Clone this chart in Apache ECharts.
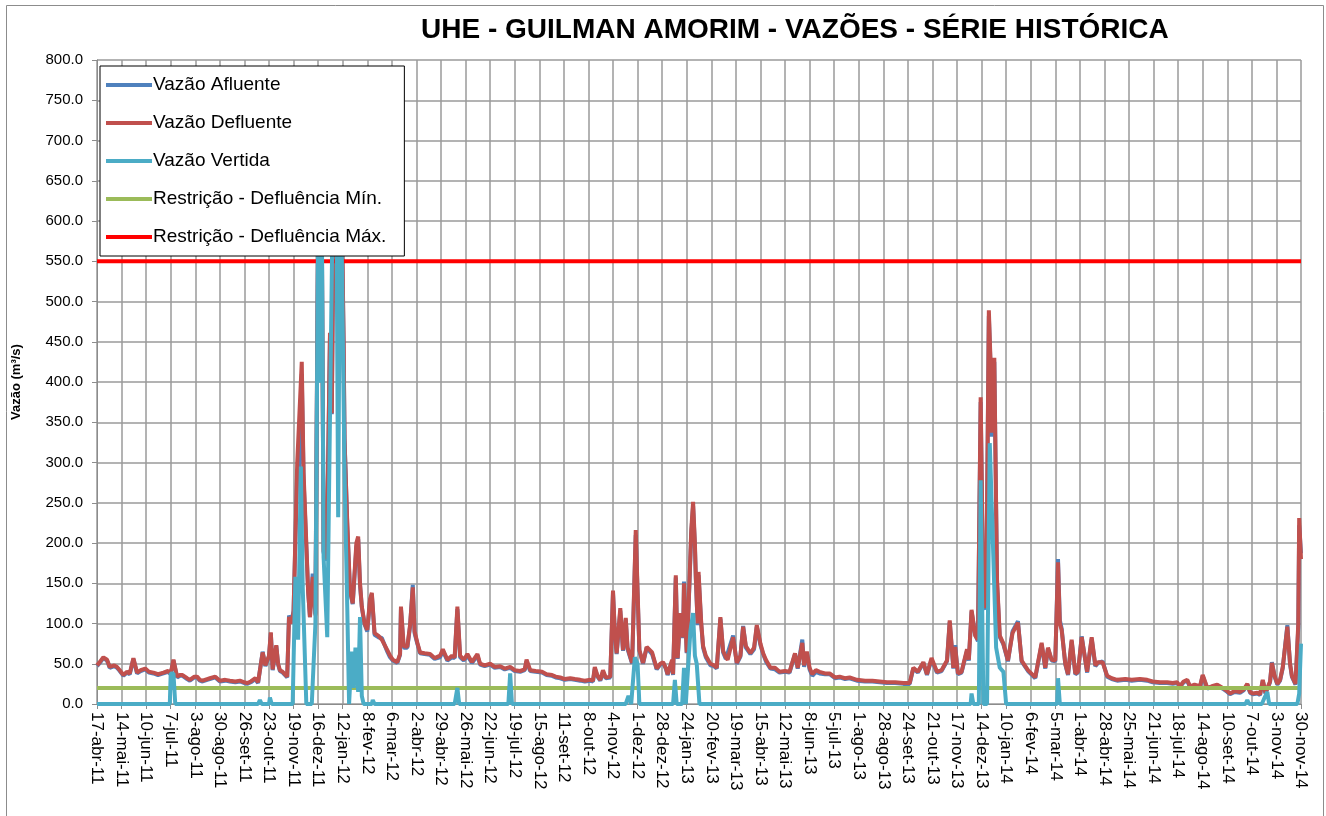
<!DOCTYPE html>
<html>
<head>
<meta charset="utf-8">
<script src="https://cdn.jsdelivr.net/npm/echarts@6/dist/echarts.min.js"></script>
<style>
  html, body { margin: 0; padding: 0; background: #fff; }
  #chart { width: 1326px; height: 816px; }
</style>
</head>
<body>
<div id="chart"></div>
<script>
// rótulos do eixo X (um a cada 27 dias a partir de 17-abr-11)
const tickLabels = ['17-abr-11','14-mai-11','10-jun-11','7-jul-11','3-ago-11','30-ago-11','26-set-11','23-out-11','19-nov-11','16-dez-11',
  '12-jan-12','8-fev-12','6-mar-12','2-abr-12','29-abr-12','26-mai-12','22-jun-12','19-jul-12','15-ago-12','11-set-12',
  '8-out-12','4-nov-12','1-dez-12','28-dez-12','24-jan-13','20-fev-13','19-mar-13','15-abr-13','12-mai-13','8-jun-13',
  '5-jul-13','1-ago-13','28-ago-13','24-set-13','21-out-13','17-nov-13','14-dez-13','10-jan-14','6-fev-14','5-mar-14',
  '1-abr-14','28-abr-14','25-mai-14','21-jun-14','18-jul-14','14-ago-14','10-set-14','7-out-14','3-nov-14','30-nov-14'];
const tickStep = 27;
const lastDay = 1323;

// [dia desde 17-abr-11, vazão m³/s]
const afluente = [[0,47],[3,51],[7,57],[11,54],[14,45],[19,47],[22,45],[25,41],[29,35],[33,39],[36,37],[40,56],[44,38],[48,41],[53,43],[57,39],[62,38],[67,36],[73,38],[78,40],[81,37],[84,54],[88,33],[91,35],[94,35],[99,31],[102,29],[107,33],[110,33],[113,29],[116,28],[121,30],[124,31],[130,33],[135,28],[141,29],[146,28],[152,27],[157,28],[162,26],[165,25],[169,27],[174,31],[177,26],[179,27],[182,65],[185,47],[187,45],[189,59],[191,88],[193,42],[197,72],[199,49],[201,41],[204,39],[209,33],[211,110],[214,102],[216,116],[220,290],[222,295],[225,410],[227,280],[230,195],[232,140],[234,108],[237,162],[240,112],[243,610],[245,630],[247,600],[249,188],[252,178],[254,298],[256,455],[258,360],[260,615],[263,650],[265,555],[267,630],[269,610],[271,445],[272,330],[275,222],[278,140],[281,124],[285,195],[287,205],[289,148],[291,120],[294,99],[297,90],[300,128],[302,136],[305,86],[309,83],[313,82],[319,65],[322,58],[325,54],[330,51],[333,61],[334,118],[337,70],[341,70],[344,96],[347,148],[349,88],[352,75],[355,63],[360,62],[366,61],[371,56],[377,58],[380,66],[385,54],[390,58],[393,57],[396,118],[399,58],[403,54],[407,60],[412,51],[418,60],[421,49],[426,47],[432,49],[437,45],[443,46],[448,43],[454,45],[459,41],[465,40],[470,42],[472,53],[476,41],[482,40],[489,39],[494,36],[500,35],[504,33],[509,32],[514,30],[520,31],[525,30],[531,29],[536,28],[542,29],[545,28],[547,44],[550,34],[553,29],[556,40],[559,32],[564,33],[567,138],[569,88],[571,62],[575,116],[578,66],[581,105],[583,68],[588,50],[592,210],[596,66],[600,50],[604,70],[610,62],[615,43],[619,49],[622,51],[625,44],[627,36],[632,53],[633,36],[636,157],[638,56],[641,110],[644,82],[645,152],[648,63],[650,118],[653,212],[655,246],[657,196],[658,156],[660,98],[661,160],[664,98],[666,70],[669,58],[674,48],[678,47],[681,44],[685,106],[688,64],[691,56],[693,54],[699,85],[703,50],[707,59],[710,97],[713,70],[718,62],[722,68],[725,96],[729,73],[732,62],[735,53],[740,44],[745,43],[750,39],[756,40],[761,39],[767,62],[770,44],[775,80],[777,46],[780,64],[783,43],[786,35],[790,40],[794,38],[800,37],[805,37],[811,32],[816,33],[822,31],[827,32],[835,29],[844,28],[852,28],[860,27],[868,26],[877,26],[886,25],[893,25],[897,44],[902,39],[908,51],[912,36],[917,55],[923,39],[928,41],[934,53],[937,102],[941,44],[943,73],[946,37],[950,39],[956,66],[958,54],[961,115],[965,86],[968,78],[971,375],[974,123],[977,118],[980,482],[982,415],[983,332],[986,425],[989,150],[992,83],[996,74],[1001,53],[1006,90],[1012,103],[1016,53],[1023,41],[1031,32],[1038,74],[1042,44],[1045,69],[1049,54],[1053,53],[1056,180],[1058,104],[1060,94],[1064,49],[1067,36],[1071,78],[1075,37],[1078,39],[1082,84],[1088,39],[1093,81],[1097,47],[1100,51],[1105,53],[1110,34],[1115,31],[1121,29],[1130,30],[1137,29],[1146,30],[1154,29],[1160,27],[1168,26],[1176,26],[1182,25],[1187,26],[1190,21],[1194,27],[1198,29],[1201,21],[1206,23],[1212,21],[1215,35],[1220,19],[1225,21],[1231,23],[1237,19],[1242,15],[1245,12],[1250,15],[1256,14],[1260,17],[1264,24],[1267,14],[1270,12],[1275,13],[1278,11],[1281,29],[1284,13],[1289,27],[1291,52],[1294,34],[1297,24],[1300,29],[1303,45],[1308,98],[1311,49],[1313,34],[1317,24],[1320,95],[1321,222],[1323,187]];

const defluente = [[0,48],[3,52],[7,58],[11,55],[14,46],[19,48],[22,46],[25,42],[29,36],[33,40],[36,38],[40,57],[44,39],[48,42],[53,44],[57,40],[62,39],[67,37],[73,39],[78,41],[81,38],[84,55],[88,34],[91,36],[94,36],[99,32],[102,30],[107,34],[110,34],[113,30],[116,29],[121,31],[124,32],[130,34],[135,29],[141,30],[146,29],[152,28],[157,29],[162,27],[165,26],[169,28],[174,32],[177,27],[179,28],[182,64],[185,48],[187,46],[189,60],[191,89],[193,43],[197,73],[199,50],[201,42],[204,40],[209,34],[211,108],[214,100],[216,115],[220,299],[222,300],[225,425],[227,287],[230,200],[232,140],[234,108],[237,158],[240,110],[243,620],[245,640],[247,600],[249,190],[252,180],[254,300],[256,461],[258,361],[260,620],[263,660],[265,560],[267,640],[269,620],[271,450],[272,328],[275,225],[278,142],[281,125],[285,200],[287,208],[289,150],[291,121],[294,100],[297,92],[300,130],[302,138],[305,88],[309,85],[313,80],[319,67],[322,60],[325,55],[330,52],[333,62],[334,121],[337,72],[341,71],[344,98],[347,145],[349,90],[352,76],[355,64],[360,63],[366,62],[371,57],[377,60],[380,68],[385,55],[390,60],[393,58],[396,121],[399,60],[403,55],[407,62],[412,52],[418,62],[421,50],[426,48],[432,50],[437,46],[443,47],[448,44],[454,46],[459,42],[465,41],[470,43],[472,55],[476,42],[482,41],[489,40],[494,37],[500,36],[504,34],[509,33],[514,31],[520,32],[525,31],[531,30],[536,29],[542,30],[545,29],[547,46],[550,35],[553,30],[556,42],[559,33],[564,34],[567,141],[569,90],[571,63],[575,119],[578,67],[581,107],[583,70],[588,51],[592,216],[596,67],[600,51],[604,71],[610,64],[615,44],[619,50],[622,52],[625,45],[627,37],[632,55],[633,37],[636,160],[638,57],[641,113],[644,83],[645,150],[648,64],[650,120],[653,216],[655,251],[657,200],[658,158],[660,100],[661,164],[664,100],[666,72],[669,60],[674,50],[678,48],[681,45],[685,108],[688,66],[691,58],[693,55],[699,83],[703,51],[707,60],[710,96],[713,72],[718,63],[722,70],[725,98],[729,75],[732,63],[735,55],[740,45],[745,45],[750,40],[756,41],[761,40],[767,63],[770,45],[775,76],[777,48],[780,65],[783,45],[786,37],[790,42],[794,40],[800,38],[805,38],[811,33],[816,34],[822,32],[827,33],[835,30],[844,29],[852,29],[860,28],[868,27],[877,27],[886,26],[893,26],[897,45],[902,40],[908,52],[912,37],[917,57],[923,40],[928,42],[934,54],[937,104],[941,45],[943,71],[946,38],[950,40],[956,68],[958,55],[961,117],[965,85],[968,80],[971,381],[974,125],[977,120],[980,489],[982,420],[983,337],[986,430],[989,154],[992,85],[996,75],[1001,54],[1006,88],[1012,101],[1016,54],[1023,42],[1031,33],[1038,76],[1042,45],[1045,70],[1049,55],[1053,54],[1056,176],[1058,100],[1060,92],[1064,50],[1067,37],[1071,80],[1075,38],[1078,40],[1082,83],[1088,40],[1093,83],[1097,48],[1100,52],[1105,52],[1110,35],[1115,32],[1121,30],[1130,31],[1137,30],[1146,31],[1154,30],[1160,28],[1168,27],[1176,27],[1182,26],[1187,27],[1190,22],[1194,28],[1198,30],[1201,22],[1206,24],[1212,22],[1215,36],[1220,20],[1225,22],[1231,24],[1237,20],[1242,16],[1245,13],[1250,16],[1256,15],[1260,18],[1264,25],[1267,15],[1270,13],[1275,14],[1278,12],[1281,30],[1284,14],[1289,28],[1291,51],[1294,35],[1297,25],[1300,30],[1303,46],[1308,96],[1311,50],[1313,35],[1317,25],[1320,100],[1321,231],[1323,180]];

const vertida = [[0,0],[80,0],[81,38],[84,38],[86,0],[177,0],[179,5],[181,0],[189,0],[190,8],[192,0],[215,0],[218,158],[221,80],[224,295],[226,147],[230,0],[236,0],[240,100],[243,600],[245,399],[247,620],[249,182],[253,83],[256,357],[259,620],[263,640],[265,232],[267,600],[269,560],[272,287],[275,120],[277,0],[280,65],[282,20],[284,70],[287,15],[289,108],[291,10],[293,0],[302,0],[303,5],[305,0],[393,0],[396,20],[398,0],[452,0],[454,38],[456,0],[581,0],[584,10],[587,0],[589,0],[591,58],[594,50],[596,0],[633,0],[635,30],[637,0],[643,0],[645,45],[647,0],[649,0],[652,90],[655,113],[657,60],[659,50],[662,0],[960,0],[961,13],[963,0],[969,0],[971,278],[974,0],[978,0],[981,324],[985,180],[988,70],[992,45],[996,40],[999,0],[1055,0],[1056,32],[1058,0],[1262,0],[1264,5],[1266,0],[1280,0],[1283,8],[1286,15],[1288,0],[1319,0],[1321,13],[1323,75]];

const defluenciaMin = 20;
const defluenciaMax = 550;

const chart = echarts.init(document.getElementById('chart'));

const lineSeries = (name, data, color, width) => ({
  name: name,
  type: 'line',
  data: data,
  showSymbol: false,
  symbol: 'none',
  smooth: false,
  lineStyle: { color: color, width: width },
  itemStyle: { color: color },
  emphasis: { disabled: true }
});

chart.setOption({
  animation: false,
  textStyle: { fontFamily: 'Liberation Sans' },
  title: {
    text: 'UHE - GUILMAN AMORIM - VAZÕES - SÉRIE HISTÓRICA',
    left: 416,
    top: 11,
    textStyle: { fontSize: 28, fontWeight: 'bold', color: '#000', fontFamily: 'Liberation Sans' }
  },
  graphic: [{
    type: 'rect',
    left: 4,
    top: 3,
    shape: { width: 1317, height: 830 },
    style: { fill: 'none', stroke: '#8c8c8c', lineWidth: 1 },
    silent: true
  }],
  legend: {
    orient: 'vertical',
    left: 100,
    top: 66,
    padding: [9, 18, 9, 6],
    itemGap: 18,
    itemWidth: 46,
    itemHeight: 4,
    icon: 'rect',
    backgroundColor: '#fff',
    borderColor: '#000',
    borderWidth: 1,
    textStyle: { fontSize: 19, color: '#000', lineHeight: 20, padding: [0, 0, 0, -4] },
    data: ['Vazão Afluente', 'Vazão Defluente', 'Vazão Vertida', 'Restrição - Defluência Mín.', 'Restrição - Defluência Máx.']
  },
  grid: { left: 97, right: 25, top: 60, bottom: 112, containLabel: false },
  xAxis: {
    type: 'value',
    min: 0,
    max: lastDay,
    interval: tickStep,
    axisLine: { show: true, lineStyle: { color: '#8c8c8c', width: 1 } },
    axisTick: { show: true, length: 5, lineStyle: { color: '#8c8c8c' } },
    splitLine: { show: true, lineStyle: { color: '#9a9a9a', width: 1.5 } },
    axisLabel: {
      rotate: -90,
      fontSize: 17,
      color: '#000',
      margin: 8,
      showMinLabel: true,
      showMaxLabel: true,
      formatter: v => tickLabels[Math.round(v / tickStep)] || ''
    }
  },
  yAxis: {
    type: 'value',
    min: 0,
    max: 800,
    interval: 50,
    name: 'Vazão (m³/s)',
    nameLocation: 'middle',
    nameGap: 74,
    nameTextStyle: { fontSize: 13, fontWeight: 'bold', color: '#000' },
    axisLine: { show: true, lineStyle: { color: '#8c8c8c', width: 1 } },
    axisTick: { show: true, length: 5, lineStyle: { color: '#8c8c8c' } },
    splitLine: { show: true, lineStyle: { color: '#9a9a9a', width: 1.5 } },
    axisLabel: { fontSize: 15, color: '#000', margin: 14, formatter: v => v.toFixed(1) }
  },
  series: [
    lineSeries('Vazão Afluente', afluente, '#4f81bd', 4),
    lineSeries('Vazão Defluente', defluente, '#c0504d', 4),
    lineSeries('Restrição - Defluência Mín.', [[0, defluenciaMin], [lastDay, defluenciaMin]], '#9bbb59', 4),
    lineSeries('Restrição - Defluência Máx.', [[0, defluenciaMax], [lastDay, defluenciaMax]], '#ff0000', 4),
    lineSeries('Vazão Vertida', vertida, '#4bacc6', 4)
  ]
});
</script>
</body>
</html>
